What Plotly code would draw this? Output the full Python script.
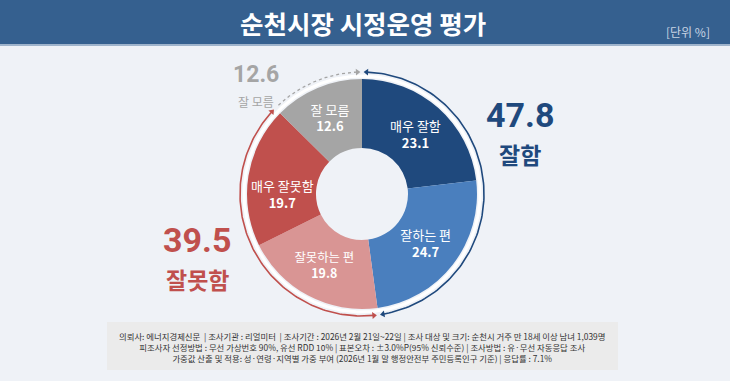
import math
import plotly.graph_objects as go

# ---- data ----
labels = ["매우 잘함", "잘하는 편", "잘못하는 편", "매우 잘못함", "잘 모름"]
values = [23.1, 24.7, 19.8, 19.7, 12.6]
colors = ["#1f497d", "#4a7fbe", "#d99594", "#c0504d", "#a5a5a5"]
group_names = ["잘함", "잘못함", "잘 모름"]
group_values = [47.8, 39.5, 12.6]
group_colors = ["#1f497d", "#c0504d", "#a5a5a5"]
title = "순천시장 시정운영 평가"
unit = "[단위 %]"
footnote = [
    "의뢰사: 에너지경제신문  | 조사기관 : 리얼미터  | 조사기간 : 2026년 2월 21일~22일 | 조사 대상 및 크기: 순천시 거주 만 18세 이상 남녀 1,039명",
    "피조사자 선정방법 : 무선 가상번호 90%, 유선 RDD 10% | 표본오차 : ±3.0%P(95% 신뢰수준) | 조사방법 : 유·무선 자동응답 조사",
    "가중값 산출 및 적용: 성·연령·지역별 가중 부여 (2026년 1월 말 행정안전부 주민등록인구 기준) | 응답률 : 7.1%",
]

W, H = 730, 381
FONT = "Noto Sans CJK KR"
NUMFONT = "Roboto"
cx, cy_top, R = 362, 194, 115
cy = H - cy_top  # bottom-up coordinates

fig = go.Figure()

# donut
fig.add_trace(go.Pie(
    labels=labels, values=values, sort=False, direction="clockwise", rotation=0,
    hole=0.4, marker=dict(colors=colors, line=dict(width=0)),
    texttemplate="%{label}<br><b>%{value}</b>", textposition="inside",
    insidetextorientation="horizontal",
    textfont=dict(family=FONT, size=13, color="white"),
    domain=dict(x=[(cx - R) / W, (cx + R) / W], y=[(cy - R) / H, (cy + R) / H]),
    showlegend=False, hoverinfo="label+value",
))

def arc(f0, f1, r, n=120):
    xs, ys = [], []
    for i in range(n + 1):
        f = f0 + (f1 - f0) * i / n
        a = 2 * math.pi * f
        xs.append(cx + r * math.sin(a))
        ys.append(cy + r * math.cos(a))
    return xs, ys

# white ring around donut
xs, ys = arc(0, 1, R + 3, 360)
fig.add_trace(go.Scatter(x=xs, y=ys, mode="lines", line=dict(color="white", width=3),
                         hoverinfo="skip", showlegend=False))

tot = sum(group_values)
bounds = []
acc = 0
for v in group_values:
    bounds.append((acc / tot, (acc + v) / tot))
    acc += v

RA = R + 7
gap = 0.006
for (f0, f1), col, dash in zip(bounds, group_colors, ["solid", "solid", "dot"]):
    a0, a1 = f0 + gap, f1 - gap
    xs, ys = arc(a0, a1, RA)
    fig.add_trace(go.Scatter(x=xs, y=ys, mode="lines",
                             line=dict(color=col, width=1.6 if dash == "solid" else 1.3, dash=dash),
                             hoverinfo="skip", showlegend=False))
    ends = [(a1, 90)] if dash == "dot" else [(a0, -90), (a1, 90)]
    for f, off in ends:
        a = 2 * math.pi * f
        fig.add_trace(go.Scatter(
            x=[cx + RA * math.sin(a)], y=[cy + RA * math.cos(a)], mode="markers",
            marker=dict(symbol="triangle-up", size=6, angle=360 * f + off, color=col, line=dict(width=0)),
            hoverinfo="skip", showlegend=False))

fig.update_xaxes(range=[0, W], visible=False, fixedrange=True)
fig.update_yaxes(range=[0, H], visible=False, fixedrange=True)

shapes = [
    dict(type="rect", xref="paper", yref="paper", x0=0, x1=1, y0=(H - 44) / H, y1=1,
         fillcolor="#35608f", line=dict(width=0), layer="below"),
    dict(type="rect", xref="paper", yref="paper", x0=0, x1=1, y0=(H - 46) / H, y1=(H - 44) / H,
         fillcolor="#9fb4cc", line=dict(width=0), layer="below"),
    dict(type="rect", xref="x", yref="y", x0=107, x1=618, y0=H - 370, y1=H - 322,
         fillcolor="#ebebeb", line=dict(width=0), layer="below"),
]

ann = []
def add(text, x, y, size, color, bold=False, family=FONT):
    ann.append(dict(text=f"<b>{text}</b>" if bold else text, x=x, y=H - y, xref="x", yref="y",
                    showarrow=False, font=dict(family=family, size=size, color=color),
                    xanchor="center", yanchor="middle"))

add(title, 363, 22, 25.5, "white", True)
add(unit, 688, 31, 12, "#c9d5e4")
add(f"{group_values[0]}", 520, 115, 34, group_colors[0], True, NUMFONT)
add(group_names[0], 520, 154, 23, group_colors[0], True)
add(f"{group_values[1]}", 197, 240, 34, group_colors[1], True, NUMFONT)
add(group_names[1], 197, 279, 23, group_colors[1], True)
add(f"{group_values[2]}", 256, 74, 23, group_colors[2], True, NUMFONT)
add(group_names[2], 256, 101, 12, group_colors[2])
add("<br>".join(footnote), 362, 347, 8.4, "#333333")

fig.update_layout(
    width=W, height=H, margin=dict(l=0, r=0, t=0, b=0),
    paper_bgcolor="#eff2f7", plot_bgcolor="rgba(0,0,0,0)",
    shapes=shapes, annotations=ann, showlegend=False,
)
fig.write_html("out.html", config={"displayModeBar": False},
               post_script="document.body.style.margin='0';document.body.style.overflow='hidden';")
